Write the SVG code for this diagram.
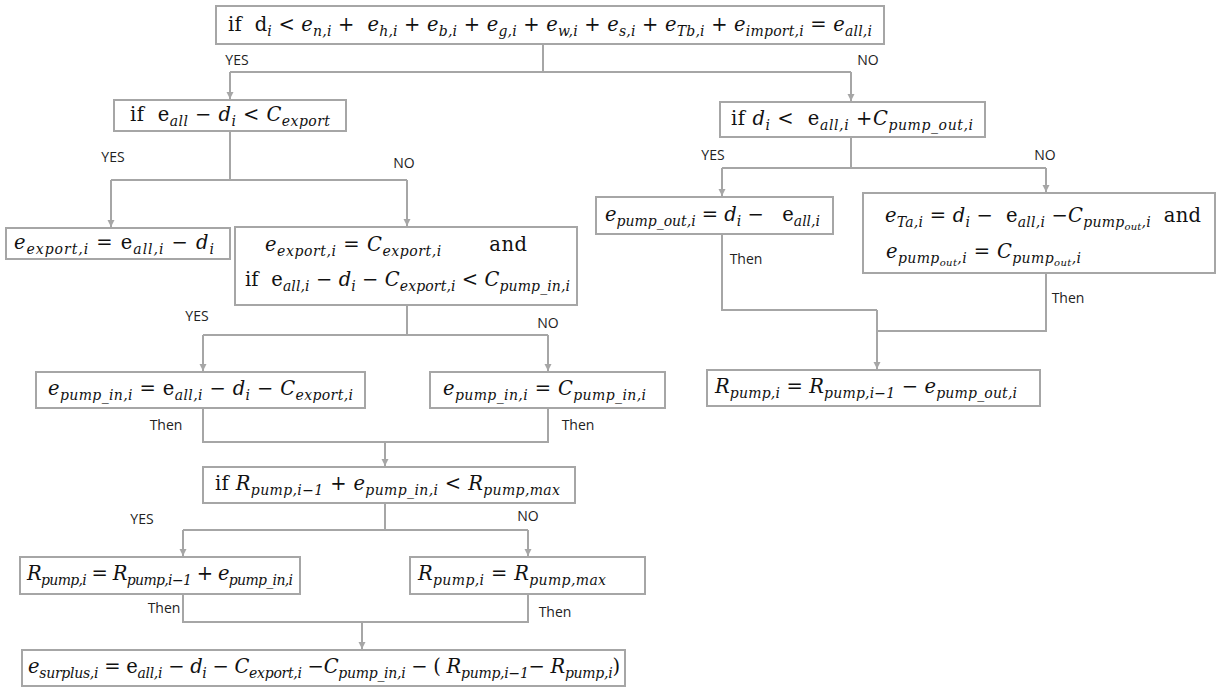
<svg xmlns="http://www.w3.org/2000/svg" width="1217" height="688" viewBox="0 0 1217 688" xml:space="preserve">
<style>
.box{fill:#fff;stroke:#a6a6a6;stroke-width:2}
.conn{fill:none;stroke:#a6a6a6;stroke-width:2}
.m{font-family:"DejaVu Serif","Liberation Serif",serif;font-size:19.5px;fill:#111;white-space:pre}
.v{font-style:italic}
.s{font-size:14px;font-style:italic}
.ss{font-size:10px;font-style:italic}
.lbl{font-family:"Open Sans","Noto Sans",sans-serif;font-size:14px;fill:#222}
</style>
<defs>
<marker id="ah" markerUnits="userSpaceOnUse" markerWidth="8" markerHeight="8" refX="7" refY="4" orient="auto">
<path d="M0,0.5 L7,4 L0,7.5 z" fill="#a6a6a6"/>
</marker>
</defs>
<rect width="1217" height="688" fill="#fff"/>

<g id="connectors">
<path class="conn" d="M543,44 V72 M230,72 H851"/>
<path class="conn" d="M230,72 V99" marker-end="url(#ah)"/>
<path class="conn" d="M851,72 V101" marker-end="url(#ah)"/>
<path class="conn" d="M230,131 V180 M111,180 H407"/>
<path class="conn" d="M111,180 V227" marker-end="url(#ah)"/>
<path class="conn" d="M407,180 V226" marker-end="url(#ah)"/>
<path class="conn" d="M851,137 V168 M722,168 H1046"/>
<path class="conn" d="M722,168 V196" marker-end="url(#ah)"/>
<path class="conn" d="M1046,168 V192" marker-end="url(#ah)"/>
<path class="conn" d="M722,234 V310 H877 M1046,273 V331 H877"/>
<path class="conn" d="M877,310 V369" marker-end="url(#ah)"/>
<path class="conn" d="M407,305 V335 M203,335 H548"/>
<path class="conn" d="M203,335 V371" marker-end="url(#ah)"/>
<path class="conn" d="M548,335 V371" marker-end="url(#ah)"/>
<path class="conn" d="M203,408 V442 H548 V408"/>
<path class="conn" d="M385,442 V466" marker-end="url(#ah)"/>
<path class="conn" d="M385,503 V530 M183,530 H528"/>
<path class="conn" d="M183,530 V556" marker-end="url(#ah)"/>
<path class="conn" d="M528,530 V556" marker-end="url(#ah)"/>
<path class="conn" d="M183,594 V622 H528 V594"/>
<path class="conn" d="M362,622 V649" marker-end="url(#ah)"/>
<text class="lbl" x="237" y="65" text-anchor="middle">YES</text>
<text class="lbl" x="868" y="65" text-anchor="middle">NO</text>
<text class="lbl" x="113" y="162" text-anchor="middle">YES</text>
<text class="lbl" x="404" y="168" text-anchor="middle">NO</text>
<text class="lbl" x="713" y="160" text-anchor="middle">YES</text>
<text class="lbl" x="1045" y="160" text-anchor="middle">NO</text>
<text class="lbl" x="746" y="264" text-anchor="middle">Then</text>
<text class="lbl" x="1068" y="303" text-anchor="middle">Then</text>
<text class="lbl" x="197" y="321" text-anchor="middle">YES</text>
<text class="lbl" x="548" y="328" text-anchor="middle">NO</text>
<text class="lbl" x="166" y="430" text-anchor="middle">Then</text>
<text class="lbl" x="578" y="430" text-anchor="middle">Then</text>
<text class="lbl" x="142" y="524" text-anchor="middle">YES</text>
<text class="lbl" x="528" y="521" text-anchor="middle">NO</text>
<text class="lbl" x="164" y="613" text-anchor="middle">Then</text>
<text class="lbl" x="555" y="617" text-anchor="middle">Then</text>
</g>

<g id="n1">
<rect class="box" x="216" y="6" width="668" height="38"/>
<text class="m" x="228" y="31" textLength="644" lengthAdjust="spacing">if  d<tspan class="s" dy="5">i</tspan><tspan dy="-5"> &lt; </tspan><tspan class="v">e</tspan><tspan class="s" dy="5">n,i</tspan><tspan dy="-5"> +  </tspan><tspan class="v">e</tspan><tspan class="s" dy="5">h,i</tspan><tspan dy="-5"> + </tspan><tspan class="v">e</tspan><tspan class="s" dy="5">b,i</tspan><tspan dy="-5"> + </tspan><tspan class="v">e</tspan><tspan class="s" dy="5">g,i</tspan><tspan dy="-5"> + </tspan><tspan class="v">e</tspan><tspan class="s" dy="5">w,i</tspan><tspan dy="-5"> + </tspan><tspan class="v">e</tspan><tspan class="s" dy="5">s,i</tspan><tspan dy="-5"> + </tspan><tspan class="v">e</tspan><tspan class="s" dy="5">Tb,i</tspan><tspan dy="-5"> + </tspan><tspan class="v">e</tspan><tspan class="s" dy="5">import,i</tspan><tspan dy="-5"> = </tspan><tspan class="v">e</tspan><tspan class="s" dy="5">all,i</tspan></text>
</g>

<g id="n2">
<rect class="box" x="114" y="100" width="232" height="31"/>
<text class="m" x="130" y="121" textLength="200" lengthAdjust="spacing">if  e<tspan class="s" dy="5">all</tspan><tspan dy="-5"> − </tspan><tspan class="v">d</tspan><tspan class="s" dy="5">i</tspan><tspan dy="-5"> &lt; </tspan><tspan class="v">C</tspan><tspan class="s" dy="5">export</tspan></text>
</g>

<g id="n3">
<rect class="box" x="720" y="102" width="265" height="35"/>
<text class="m" x="731" y="125" textLength="242" lengthAdjust="spacing">if <tspan class="v">d</tspan><tspan class="s" dy="5">i</tspan><tspan dy="-5"> &lt;  e</tspan><tspan class="s" dy="5">all,i</tspan><tspan dy="-5"> +</tspan><tspan class="v">C</tspan><tspan class="s" dy="5">pump_out,i</tspan></text>
</g>

<g id="n4">
<rect class="box" x="6" y="228" width="224" height="31"/>
<text class="m" x="14" y="249" textLength="200" lengthAdjust="spacing"><tspan class="v">e</tspan><tspan class="s" dy="5">export,i</tspan><tspan dy="-5"> = e</tspan><tspan class="s" dy="5">all,i</tspan><tspan dy="-5"> − </tspan><tspan class="v">d</tspan><tspan class="s" dy="5">i</tspan></text>
</g>

<g id="n5">
<rect class="box" x="235" y="227" width="342" height="78"/>
<text class="m" x="265" y="251" textLength="262" lengthAdjust="spacing"><tspan class="v">e</tspan><tspan class="s" dy="5">export,i</tspan><tspan dy="-5"> = </tspan><tspan class="v">C</tspan><tspan class="s" dy="5">export,i</tspan><tspan dy="-5">       and</tspan></text>
<text class="m" x="245" y="286" textLength="325" lengthAdjust="spacing"><tspan>if  e</tspan><tspan class="s" dy="5">all,i</tspan><tspan dy="-5"> − </tspan><tspan class="v">d</tspan><tspan class="s" dy="5">i</tspan><tspan dy="-5"> − </tspan><tspan class="v">C</tspan><tspan class="s" dy="5">export,i</tspan><tspan dy="-5"> &lt; </tspan><tspan class="v">C</tspan><tspan class="s" dy="5">pump_in,i</tspan></text>
</g>

<g id="n6">
<rect class="box" x="596" y="197" width="237" height="37"/>
<text class="m" x="605" y="221" textLength="215" lengthAdjust="spacing"><tspan class="v">e</tspan><tspan class="s" dy="5">pump_out,i</tspan><tspan dy="-5"> = </tspan><tspan class="v">d</tspan><tspan class="s" dy="5">i</tspan><tspan dy="-5"> −   e</tspan><tspan class="s" dy="5">all,i</tspan></text>
</g>

<g id="n7">
<rect class="box" x="863" y="193" width="352" height="80"/>
<text class="m" x="885" y="222" textLength="316" lengthAdjust="spacing"><tspan class="v">e</tspan><tspan class="s" dy="5">Ta,i</tspan><tspan dy="-5"> = </tspan><tspan class="v">d</tspan><tspan class="s" dy="5">i</tspan><tspan dy="-5"> −  e</tspan><tspan class="s" dy="5">all,i</tspan><tspan dy="-5"> −</tspan><tspan class="v">C</tspan><tspan class="s" dy="5">pump</tspan><tspan class="ss" dy="3">out</tspan><tspan class="s" dy="-3">,i</tspan><tspan dy="-5">  and</tspan></text>
<text class="m" x="886" y="258" textLength="195" lengthAdjust="spacing"><tspan class="v">e</tspan><tspan class="s" dy="5">pump</tspan><tspan class="ss" dy="3">out</tspan><tspan class="s" dy="-3">,i</tspan><tspan dy="-5"> = </tspan><tspan class="v">C</tspan><tspan class="s" dy="5">pump</tspan><tspan class="ss" dy="3">out</tspan><tspan class="s" dy="-3">,i</tspan></text>
</g>

<g id="n8">
<rect class="box" x="707" y="370" width="333" height="36"/>
<text class="m" x="715" y="393" textLength="302" lengthAdjust="spacing"><tspan class="v">R</tspan><tspan class="s" dy="5">pump,i</tspan><tspan dy="-5"> = </tspan><tspan class="v">R</tspan><tspan class="s" dy="5">pump,i−1</tspan><tspan dy="-5"> − </tspan><tspan class="v">e</tspan><tspan class="s" dy="5">pump_out,i</tspan></text>
</g>

<g id="n9">
<rect class="box" x="36" y="372" width="329" height="36"/>
<text class="m" x="48" y="395" textLength="305" lengthAdjust="spacing"><tspan class="v">e</tspan><tspan class="s" dy="5">pump_in,i</tspan><tspan dy="-5"> = e</tspan><tspan class="s" dy="5">all,i</tspan><tspan dy="-5"> − </tspan><tspan class="v">d</tspan><tspan class="s" dy="5">i</tspan><tspan dy="-5"> − </tspan><tspan class="v">C</tspan><tspan class="s" dy="5">export,i</tspan></text>
</g>

<g id="n10">
<rect class="box" x="430" y="372" width="235" height="36"/>
<text class="m" x="443" y="395" textLength="203" lengthAdjust="spacing"><tspan class="v">e</tspan><tspan class="s" dy="5">pump_in,i</tspan><tspan dy="-5"> = </tspan><tspan class="v">C</tspan><tspan class="s" dy="5">pump_in,i</tspan></text>
</g>

<g id="n11">
<rect class="box" x="203" y="467" width="372" height="36"/>
<text class="m" x="215" y="490" textLength="345" lengthAdjust="spacing">if <tspan class="v">R</tspan><tspan class="s" dy="5">pump,i−1</tspan><tspan dy="-5"> + </tspan><tspan class="v">e</tspan><tspan class="s" dy="5">pump_in,i</tspan><tspan dy="-5"> &lt; </tspan><tspan class="v">R</tspan><tspan class="s" dy="5">pump,max</tspan></text>
</g>

<g id="n12">
<rect class="box" x="20" y="557" width="280" height="37"/>
<text class="m" x="27" y="580" textLength="266" lengthAdjust="spacing"><tspan class="v">R</tspan><tspan class="s" dy="5">pump,i</tspan><tspan dy="-5"> = </tspan><tspan class="v">R</tspan><tspan class="s" dy="5">pump,i−1</tspan><tspan dy="-5"> + </tspan><tspan class="v">e</tspan><tspan class="s" dy="5">pump_in,i</tspan></text>
</g>

<g id="n13">
<rect class="box" x="410" y="557" width="235" height="37"/>
<text class="m" x="418" y="580" textLength="188" lengthAdjust="spacing"><tspan class="v">R</tspan><tspan class="s" dy="5">pump,i</tspan><tspan dy="-5"> = </tspan><tspan class="v">R</tspan><tspan class="s" dy="5">pump,max</tspan></text>
</g>

<g id="n14">
<rect class="box" x="22" y="650" width="603" height="36"/>
<text class="m" x="28" y="673" textLength="592" lengthAdjust="spacing"><tspan class="v">e</tspan><tspan class="s" dy="5">surplus,i</tspan><tspan dy="-5"> = e</tspan><tspan class="s" dy="5">all,i</tspan><tspan dy="-5"> − </tspan><tspan class="v">d</tspan><tspan class="s" dy="5">i</tspan><tspan dy="-5"> − </tspan><tspan class="v">C</tspan><tspan class="s" dy="5">export,i</tspan><tspan dy="-5"> −</tspan><tspan class="v">C</tspan><tspan class="s" dy="5">pump_in,i</tspan><tspan dy="-5"> − ( </tspan><tspan class="v">R</tspan><tspan class="s" dy="5">pump,i−1</tspan><tspan dy="-5">− </tspan><tspan class="v">R</tspan><tspan class="s" dy="5">pump,i</tspan><tspan dy="-5">)</tspan></text>
</g>
</svg>
